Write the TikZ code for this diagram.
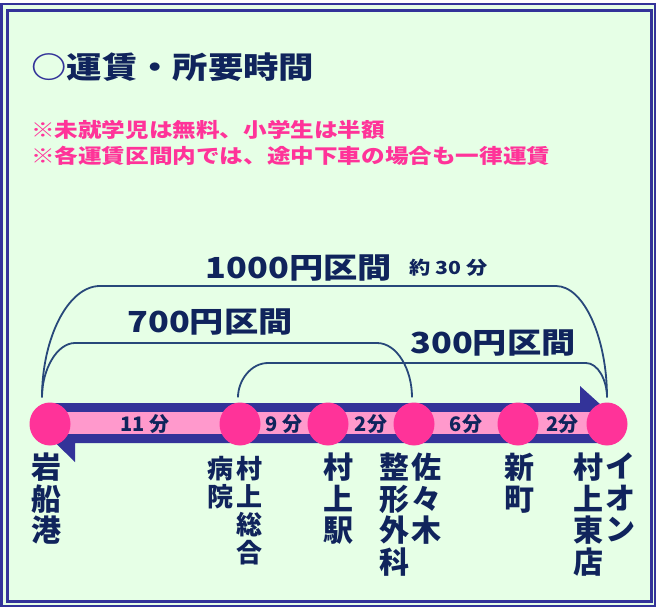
\documentclass[tikz,border=0pt]{standalone}
\usepackage{fontspec}
\newfontfamily\jpfont{Noto Sans CJK JP}
\newfontfamily\jpwide[FakeStretch=1.18]{Noto Sans CJK JP}
\usetikzlibrary{shapes.geometric}
\usetikzlibrary{positioning}
\usetikzlibrary{backgrounds}

\definecolor{navy}{RGB}{16,36,92}
\definecolor{barblue}{RGB}{51,51,153}
\definecolor{stripe}{RGB}{255,153,204}
\definecolor{hotpink}{RGB}{255,51,153}
\definecolor{bggreen}{RGB}{230,255,230}
\definecolor{arcline}{RGB}{40,72,122}

\tikzset{
  stopdot/.style={ellipse, fill=hotpink, minimum width=41pt, minimum height=43pt, inner sep=0pt},
  farearc/.style={arcline, line width=1.8pt, shorten <=5pt, shorten >=5pt},
  frameline/.style={draw=barblue},
  fare/.style={navy, inner sep=0pt, font=\jpwide\bfseries\fontsize{29}{29}\selectfont},
  mins/.style={navy, inner sep=0pt, font=\jpfont\bfseries\fontsize{20}{20}\selectfont},
  station/.style={navy, inner sep=0pt, anchor=north, align=center, font=\jpfont\bfseries\fontsize{30}{31.5}\selectfont},
  smallstation/.style={station, font=\jpfont\bfseries\fontsize{26}{28}\selectfont},
}

\begin{document}
\begin{tikzpicture}[x=1pt,y=-1pt]
\useasboundingbox (0,0) rectangle (656,608);

% stops on the line
\node[stopdot] (iwa)  at (50,424)  {};
\node[stopdot] (byo)  at (240,424) {};
\node[stopdot] (eki)  at (328,424) {};
\node[stopdot] (sas)  at (414,424) {};
\node[stopdot] (shin) at (518,424) {};
\node[stopdot] (aeon) at (607,424) {};

\begin{scope}[on background layer]
\fill[bggreen] (1.5,4) rectangle (655,606);
\draw[frameline, line width=2.6pt] (1.5,4) rectangle (655,606);
\draw[frameline, line width=3pt] (7.5,10.5) rectangle (651,601);

% fare ranges
\draw[farearc] ([xshift=-8pt]iwa.north) .. controls +(0,-64) and +(-32,0) .. (100,286) -- (556,286) .. controls +(28,0) and +(0,-64) .. (aeon.north);
\draw[farearc] ([xshift=-8pt]iwa.north) .. controls +(0,-33) and +(-18,0) .. (75,343) -- (377,343) .. controls +(20,0) and +(0,-33) .. ([xshift=-2pt]sas.north);
\draw[farearc] ([xshift=-2pt]byo.north) .. controls +(0,-22) and +(-17,0) .. (268,363) -- (586,363) .. controls +(12,0) and +(0,-22) .. (aeon.north);

% the line, both ways
\fill[barblue] ([yshift=21pt]iwa.center) -- ([xshift=-27pt,yshift=21pt]aeon.center) -- ([xshift=-27pt,yshift=38pt]aeon.center) -- ([xshift=15pt]aeon.center) -- (iwa.center) -- cycle;
\fill[barblue] ([xshift=-14pt]iwa.center) -- ([xshift=25pt,yshift=-38pt]iwa.center) -- ([xshift=25pt,yshift=-19pt]iwa.center) -- ([yshift=-19pt]aeon.center) -- (aeon.center) -- cycle;
\fill[stripe] ([yshift=12pt]iwa.center) rectangle ([yshift=-10pt]aeon.center);
\end{scope}

% headings
\node[navy, anchor=west, inner sep=0pt, font=\jpwide\bfseries\fontsize{30}{30}\selectfont] (title) at (31,67) {{\color{barblue}○}運賃・所要時間};
\node[hotpink, anchor=west, inner sep=0pt, font=\jpwide\bfseries\fontsize{20}{20}\selectfont] (note1) at (31,130) {※未就学児は無料、小学生は半額};
\node[hotpink, anchor=west, inner sep=0pt, font=\jpwide\bfseries\fontsize{20}{20}\selectfont] (note2) at (31,156) {※各運賃区間内では、途中下車の場合も一律運賃};

\node[fare] (f1000) at (299,268) {1000円区間};
\node[navy, inner sep=0pt, right=17pt of f1000, font=\jpwide\bfseries\fontsize{18}{18}\selectfont] (total) {約 30 分};
\node[fare] (f700) at (210,322) {700円区間};
\node[fare] (f300) at (493,343) {300円区間};

% minutes between stops
\path (iwa) -- (byo) node[midway, mins] {11 分};
\path (byo) -- (eki) node[midway, mins] {9 分};
\path (eki) -- (sas) node[midway, mins] {2分};
\path (sas) -- (shin) node[midway, mins] {6分};
\path (shin) -- (aeon) node[midway, mins] {2分};

% station names
\node[station] (iwaN) at (46,453) {岩\\船\\港};
\node[smallstation] (byoN) at (249,456) {村\\上\\総\\合};
\node[smallstation, left=2pt of byoN.north west, anchor=north east] (byoM) {病\\院};
\node[station] (ekiN) at (338,453) {村\\上\\駅};
\node[station] (sasN) at (426,453) {佐\\々\\木};
\node[station, left=1pt of sasN.north west, anchor=north east] (sasM) {整\\形\\外\\科};
\node[station] (shinN) at (519,453) {新\\町};
\node[station] (aeonN) at (620,453) {イ\\オ\\ン};
\node[station, left=1pt of aeonN.north west, anchor=north east] (aeonM) {村\\上\\東\\店};
\end{tikzpicture}
\end{document}
